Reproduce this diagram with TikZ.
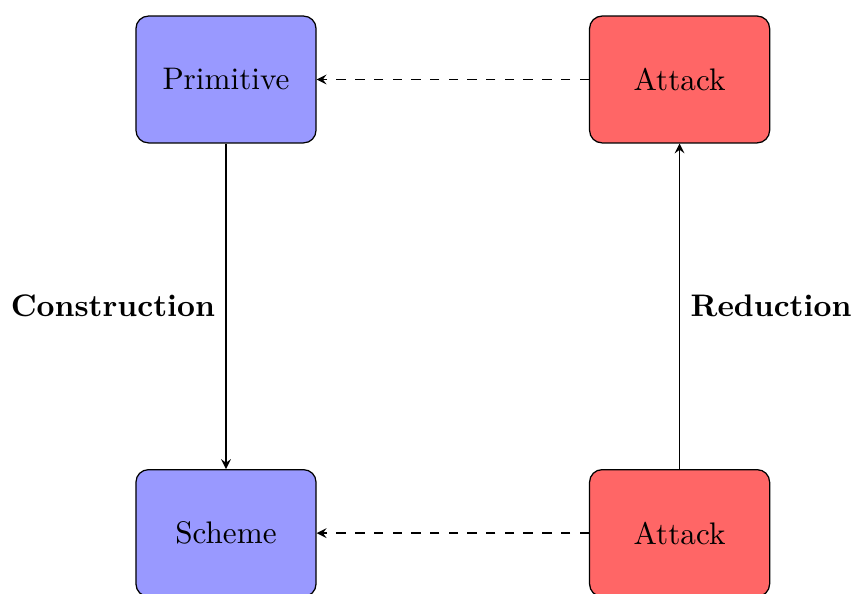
\documentclass[tikz,border=0pt]{standalone}
\usepackage{tikz}
\usetikzlibrary{positioning,arrows}

\begin{document}
\begin{tikzpicture}[>=stealth,
    block/.style={draw, rounded corners, minimum width=2.03cm, minimum height=1.43cm},
    good/.style={block, fill=blue!40},
    bad/.style={block, fill=red!60}]

\useasboundingbox (-2.548,-5.800) rectangle (7.069,0.896); % Fix margins

\node [good] (prim) at (0,0) {Primitive};
\node [bad, right=3.07cm of prim] (atkprim) {Attack};
\node [good, below=3.67cm of prim] (scheme) {Scheme};
\node [bad, below=3.67cm of atkprim] (atkscheme) {Attack};

\draw[->] (prim) -- node[left] {\textbf{Construction}} (scheme);
\draw[->] (atkscheme) -- node[right] {\textbf{Reduction}} (atkprim);
\draw[->,dashed] (atkprim) -- (prim); % Break primitive
\draw[->,dashed] (atkscheme) -- (scheme); % Break scheme

\end{tikzpicture}
\end{document}
